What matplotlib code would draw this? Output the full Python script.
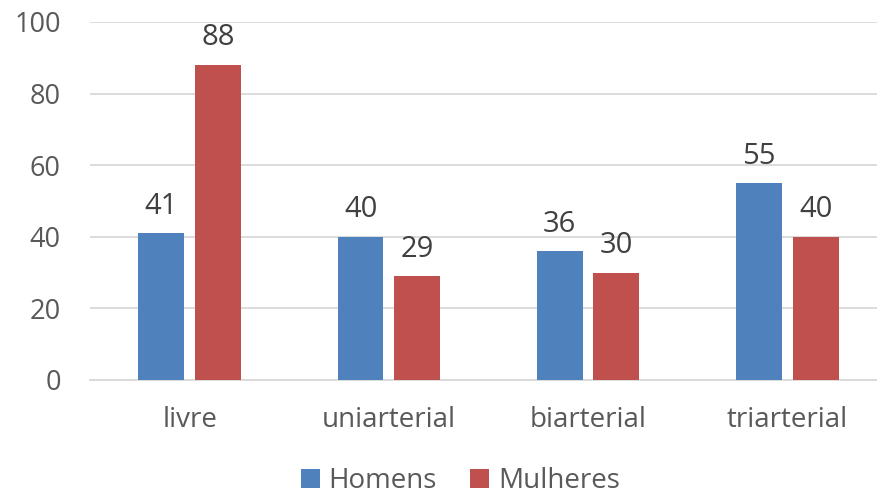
import matplotlib
matplotlib.use("Agg")
import matplotlib.pyplot as plt
import numpy as np

categories = ["livre", "uniarterial", "biarterial", "triarterial"]
homens = [41, 40, 36, 55]
mulheres = [88, 29, 30, 40]
series_names = ["Homens", "Mulheres"]
colors = ["#4F81BD", "#C0504D"]
yticks = [0, 20, 40, 60, 80, 100]

plt.rcParams['font.family'] = ['Open Sans', 'DejaVu Sans']

fig = plt.figure(figsize=(8.78, 4.95), dpi=100)
ax = fig.add_axes([90/878, 1-380/495, 1-90/878, 358/495])

x = np.arange(len(categories))
w = 0.23
off = 0.142
b1 = ax.bar(x - off, homens, w, color=colors[0], label=series_names[0], zorder=3)
b2 = ax.bar(x + off, mulheres, w, color=colors[1], label=series_names[1], zorder=3)

for bars, vals in ((b1, homens), (b2, mulheres)):
    for b, v in zip(bars, vals):
        ax.annotate(str(v), (b.get_x() + b.get_width()/2, v), xytext=(0, 9),
                    textcoords="offset points", ha="center", va="bottom",
                    fontsize=21, color="#404040")

ax.set_ylim(0, 100)
ax.set_xlim(-0.5, 3.455)
ax.set_yticks(yticks)
ax.set_yticklabels([str(t) for t in yticks])
ax.set_xticks(x)
ax.set_xticklabels(categories)
ax.tick_params(axis='both', length=0, colors="#595959")
ax.tick_params(axis='x', pad=19, labelsize=20)
ax.tick_params(axis='y', pad=21, labelsize=19.5)
ax.yaxis.grid(True, color="#D9D9D9", linewidth=1.3, zorder=0)
ax.set_axisbelow(True)
for s in ("left", "right", "top"):
    ax.spines[s].set_visible(False)
ax.spines["bottom"].set_color("#D9D9D9")
ax.spines["bottom"].set_linewidth(1.3)

fig.legend(loc="center", bbox_to_anchor=(0.524, 1-481/495), ncol=2, frameon=False,
           fontsize=20, handlelength=0.7, handleheight=0.7, handletextpad=0.3,
           columnspacing=1.2, labelcolor="#595959")

fig.savefig("out.png", dpi=100)
